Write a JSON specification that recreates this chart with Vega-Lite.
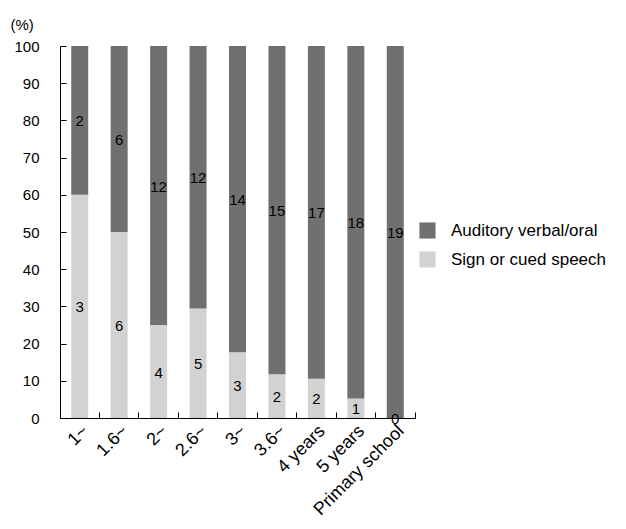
{
  "$schema": "https://vega.github.io/schema/vega-lite/v6.json",
  "width": 355,
  "height": 372,
  "padding": {"left": 60, "top": 46, "right": 211, "bottom": 111},
  "autosize": {"type": "none"},
  "background": "white",
  "config": {
    "view": {"stroke": null},
    "font": "Liberation Sans",
    "axis": {
      "domainColor": "black",
      "tickColor": "black",
      "labelColor": "black",
      "labelFont": "Liberation Sans",
      "labelFontSize": 15,
      "labelOverlap": false,
      "grid": false,
      "zindex": 1
    },
    "axisX": {
      "orient": "bottom",
      "title": null,
      "ticks": true,
      "tickSize": -6,
      "bandPosition": 1,
      "domain": true,
      "labelAngle": -45,
      "labelAlign": "right",
      "labelBaseline": "middle",
      "labelFontSize": 18,
      "labelPadding": 16,
      "labelOffset": 6
    },
    "axisY": {
      "orient": "left",
      "titleAngle": 0,
      "titleAnchor": "end",
      "titleAlign": "left",
      "titleBaseline": "bottom",
      "titleX": -50,
      "titleY": -14,
      "titleFont": "Liberation Sans",
      "titleFontSize": 15,
      "titleFontWeight": "normal",
      "titleColor": "black",
      "ticks": true,
      "tickSize": -6,
      "labelPadding": 27
    }
  },
  "data": {
    "values": [
      {"age": "1~", "method": "Sign or cued speech", "count": 3},
      {"age": "1~", "method": "Auditory verbal/oral", "count": 2},
      {"age": "1.6~", "method": "Sign or cued speech", "count": 6},
      {"age": "1.6~", "method": "Auditory verbal/oral", "count": 6},
      {"age": "2~", "method": "Sign or cued speech", "count": 4},
      {"age": "2~", "method": "Auditory verbal/oral", "count": 12},
      {"age": "2.6~", "method": "Sign or cued speech", "count": 5},
      {"age": "2.6~", "method": "Auditory verbal/oral", "count": 12},
      {"age": "3~", "method": "Sign or cued speech", "count": 3},
      {"age": "3~", "method": "Auditory verbal/oral", "count": 14},
      {"age": "3.6~", "method": "Sign or cued speech", "count": 2},
      {"age": "3.6~", "method": "Auditory verbal/oral", "count": 15},
      {"age": "4 years", "method": "Sign or cued speech", "count": 2},
      {"age": "4 years", "method": "Auditory verbal/oral", "count": 17},
      {"age": "5 years", "method": "Sign or cued speech", "count": 1},
      {"age": "5 years", "method": "Auditory verbal/oral", "count": 18},
      {"age": "Primary school", "method": "Sign or cued speech", "count": 0},
      {"age": "Primary school", "method": "Auditory verbal/oral", "count": 19}
    ]
  },
  "transform": [
    {
      "stack": "count",
      "groupby": ["age"],
      "sort": [{"field": "method", "order": "descending"}],
      "offset": "normalize",
      "as": ["s0", "s1"]
    },
    {"calculate": "100 * datum.s0", "as": "p0"},
    {"calculate": "100 * datum.s1", "as": "p1"},
    {"calculate": "50 * (datum.s0 + datum.s1)", "as": "pmid"}
  ],
  "encoding": {
    "x": {
      "field": "age",
      "type": "nominal",
      "sort": null,
      "scale": {"paddingInner": 0, "paddingOuter": 0},
      "axis": {"title": null}
    }
  },
  "layer": [
    {
      "mark": {"type": "bar", "width": 17},
      "encoding": {
        "y": {
          "field": "p0",
          "type": "quantitative",
          "scale": {"domain": [0, 100], "nice": false},
          "axis": {
            "title": "(%)",
            "values": [0, 10, 20, 30, 40, 50, 60, 70, 80, 90, 100]
          }
        },
        "y2": {"field": "p1"},
        "color": {
          "field": "method",
          "type": "nominal",
          "scale": {
            "domain": ["Auditory verbal/oral", "Sign or cued speech"],
            "range": ["#707070", "#d2d2d2"]
          },
          "legend": {
            "title": null,
            "orient": "none",
            "legendX": 359,
            "legendY": 176,
            "symbolType": "square",
            "symbolSize": 260,
            "symbolStrokeWidth": 0,
            "labelFont": "Liberation Sans",
            "labelFontSize": 17,
            "labelColor": "black",
            "labelOffset": 15,
            "rowPadding": 11
          }
        }
      }
    },
    {
      "mark": {"type": "text", "fontSize": 15, "font": "Liberation Sans", "color": "black", "baseline": "middle", "dy": 1},
      "encoding": {
        "y": {
          "field": "pmid",
          "type": "quantitative",
          "axis": {
            "title": "(%)",
            "values": [0, 10, 20, 30, 40, 50, 60, 70, 80, 90, 100]
          }
        },
        "text": {"field": "count", "type": "quantitative"}
      }
    }
  ]
}
